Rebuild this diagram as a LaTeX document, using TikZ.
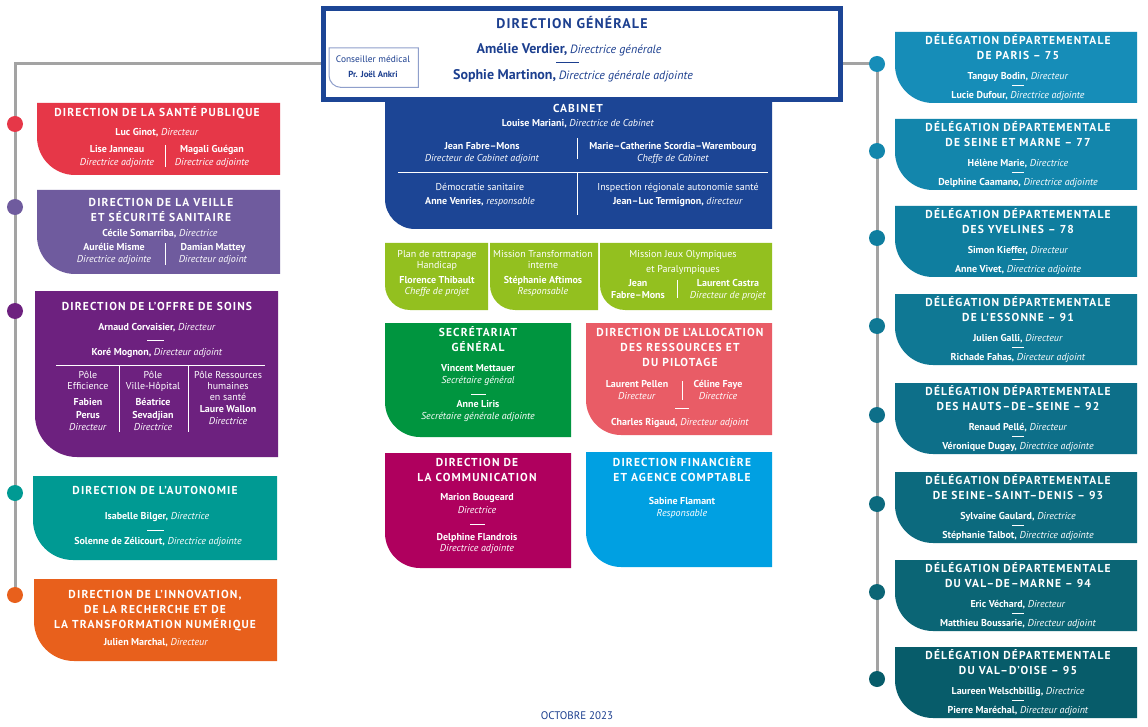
\documentclass[tikz,border=0pt]{standalone}
\usepackage{fontspec}
\setmainfont{PT Sans}
\newfontfamily\hdfam[LetterSpace=8]{PT Sans}
\newfontfamily\hdfamb[LetterSpace=10]{PT Sans}
\pgfdeclarelayer{back}\pgfdeclarelayer{bg}\pgfsetlayers{back,bg,main}
\definecolor{dgblue}{HTML}{1C4595}
\definecolor{dgtext}{HTML}{1C3F8F}
\definecolor{cmborder}{HTML}{8F9FCB}
\definecolor{trunkgray}{HTML}{A3A3A3}
\definecolor{cred}{HTML}{E63748}
\definecolor{cpurpleL}{HTML}{6F5B9E}
\definecolor{cpurpleD}{HTML}{6D217F}
\definecolor{cteal}{HTML}{009A93}
\definecolor{corange}{HTML}{E8601C}
\definecolor{clime}{HTML}{93C01F}
\definecolor{cgreen}{HTML}{00953F}
\definecolor{cpink}{HTML}{E95C66}
\definecolor{cmagenta}{HTML}{AF005E}
\definecolor{cblue}{HTML}{00A0E2}
\definecolor{rA}{HTML}{168DB8}
\definecolor{rB}{HTML}{1386AC}
\definecolor{rC}{HTML}{0F7E9F}
\definecolor{rD}{HTML}{0F7894}
\definecolor{rE}{HTML}{0D6F89}
\definecolor{rF}{HTML}{0C6A7E}
\definecolor{rG}{HTML}{0B6575}
\definecolor{rH}{HTML}{075C6A}
\newcommand{\pn}[1]{\textbf{#1}}
\newcommand{\rl}[1]{\textit{#1}}
\newcommand{\obox}[7]{%
  \node[inner sep=0,outer sep=0,minimum width={(#5-#3)*1pt},minimum height={(#6-#4)*1pt},anchor=north west] (#1) at (#3,-#4) {};
  \fill[#2] (#1.north west) -- (#1.north east) -- (#1.south east) -- ([xshift=#7pt]#1.south west) arc[start angle=270,end angle=180,radius=#7pt] -- cycle;}
\newcommand{\deleg}[8]{%
  \begin{scope}[yshift=-#3pt]
  \node[inner sep=0,outer sep=0,minimum width=242pt,minimum height=71pt,anchor=north west] (#1) at (895,0) {};
  \fill[#2] (#1.north west) -- (#1.north east) -- (#1.south east) -- ([xshift=38pt]#1.south west) arc[start angle=270,end angle=180,radius=38pt] -- cycle;
  \node[dot,fill=#2] (#1c) at (877,-32) {};
  \node[hd] (#1h1) at (1018,-10) {DÉLÉGATION DÉPARTEMENTALE};
  \node[hd] (#1h2) at (1018,-25) {#4};
  \node[tx] (#1n1) at (1018,-45) {\pn{#5,} \rl{#6}};
  \draw[wl] (1012,-53) -- (1024,-53);
  \node[tx] (#1n2) at (1018,-64) {\pn{#7,} \rl{#8}};
  \end{scope}}
\begin{document}
\begin{tikzpicture}[x=1pt,y=1pt,
  tx/.style={text=white,inner sep=0,anchor=mid,font=\fontsize{10}{11}\selectfont},
  tr/.style={text=white,inner sep=0,anchor=mid,font=\fontsize{10}{11}\selectfont},
  hd/.style={text=white,inner sep=0,anchor=mid,font=\hdfamb\fontsize{11.5}{13}\bfseries},
  wl/.style={draw=white,line width=0.8pt},
  dot/.style={circle,inner sep=0,minimum size=16pt},
  trunk/.style={draw=trunkgray,line width=3pt}]
\begin{pgfonlayer}{back}\fill[white] (0,0) rectangle (1148,-727);\end{pgfonlayer}
\useasboundingbox (0,0) rectangle (1148,-727);

% ---------- Direction generale ----------
\node[draw=dgblue,line width=5pt,fill=white,inner sep=0,minimum width=517pt,minimum height=91pt,anchor=north west] (dg) at (320.5,-6.5) {};
\node[text=dgtext,inner sep=0,anchor=mid,font=\hdfam\fontsize{14}{16}\bfseries] (dgt) at (572,-26) {DIRECTION GÉNÉRALE};
\node[text=dgtext,inner sep=0,anchor=mid] (dgn1) at (569,-51) {{\fontsize{14}{16}\selectfont\bfseries Amélie Verdier,} {\fontsize{12}{14}\selectfont\itshape Directrice générale}};
\draw[dgtext,line width=1pt] (556,-63) -- (579,-63);
\node[text=dgtext,inner sep=0,anchor=mid] (dgn2) at (573,-77) {{\fontsize{14}{16}\selectfont\bfseries Sophie Martinon,} {\fontsize{12}{14}\selectfont\itshape Directrice générale adjointe}};
\node[inner sep=0,minimum width=89pt,minimum height=39pt,anchor=north west] (cm) at (329,-48) {};
\draw[cmborder,line width=1pt,fill=white] (cm.north west) -- (cm.north east) -- (cm.south east) -- ([xshift=12pt]cm.south west) arc[start angle=270,end angle=180,radius=12pt] -- cycle;
\node[text=dgtext,inner sep=0,anchor=mid,font=\fontsize{9.4}{11}\selectfont] (cm1) at (373,-60) {Conseiller médical};
\node[text=dgtext,inner sep=0,anchor=mid,font=\fontsize{8.8}{10}\selectfont\bfseries] (cm2) at (373,-75) {Pr. Joël Ankri};

% ---------- Left column ----------
\obox{sp}{cred}{37}{103}{280}{175}{38}
\node[dot,fill=cred] (c1) at (15,-124) {};
\node[hd] (sph) at (157,-114) {DIRECTION DE LA SANTÉ PUBLIQUE};
\node[tx] (spn) at (157,-133) {\pn{Luc Ginot,} \rl{Directeur}};
\node[tx] (spa1) at (117,-150) {\pn{Lise Janneau}};
\node[tx] (spa2) at (117,-163) {\rl{Directrice adjointe}};
\node[tx] (spb1) at (212,-150) {\pn{Magali Guégan}};
\node[tx] (spb2) at (212,-163) {\rl{Directrice adjointe}};
\draw[wl] (165,-145) -- (165,-167);

\obox{vs}{cpurpleL}{37}{190}{280}{274}{38}
\node[dot,fill=cpurpleL] (c2) at (15,-207) {};
\node[hd] (vsh1) at (161,-204) {DIRECTION DE LA VEILLE};
\node[hd] (vsh2) at (161,-219) {ET SÉCURITÉ SANITAIRE};
\node[tx] (vsn) at (160,-234) {\pn{Cécile Somarriba,} \rl{Directrice}};
\node[tx] (vsa1) at (114,-248) {\pn{Aurélie Misme}};
\node[tx] (vsa2) at (114,-260) {\rl{Directrice adjointe}};
\node[tx] (vsb1) at (213,-248) {\pn{Damian Mattey}};
\node[tx] (vsb2) at (213,-260) {\rl{Directeur adjoint}};
\draw[wl] (165,-243) -- (165,-265);

\obox{os}{cpurpleD}{35}{291}{278}{457}{42}
\node[dot,fill=cpurpleD] (c3) at (15,-311) {};
\node[hd] (osh) at (157,-308) {DIRECTION DE L’OFFRE DE SOINS};
\node[tx] (osn1) at (157,-328) {\pn{Arnaud Corvaisier,} \rl{Directeur}};
\draw[wl] (147,-340) -- (164,-340);
\node[tx] (osn2) at (157,-353) {\pn{Koré Mognon,} \rl{Directeur adjoint}};
\draw[wl] (56,-365) -- (265,-365);
\draw[wl] (119,-365) -- (119,-432);
\draw[wl] (188,-365) -- (188,-432);
\node[tr] (osa1) at (88,-376) {Pôle};
\node[tr] (osa2) at (88,-387) {Efficience};
\node[tx] (osa3) at (88,-403) {\pn{Fabien}};
\node[tx] (osa4) at (88,-416) {\pn{Perus}};
\node[tx] (osa5) at (88,-428) {\rl{Directeur}};
\node[tr] (osb1) at (153,-376) {Pôle};
\node[tr] (osb2) at (153,-387) {Ville-Hôpital};
\node[tx] (osb3) at (153,-403) {\pn{Béatrice}};
\node[tx] (osb4) at (153,-416) {\pn{Sevadjian}};
\node[tx] (osb5) at (153,-428) {\rl{Directrice}};
\node[tr] (osc1) at (228,-376) {Pôle Ressources};
\node[tr] (osc2) at (228,-387) {humaines};
\node[tr] (osc3) at (228,-398) {en santé};
\node[tx] (osc4) at (228,-410) {\pn{Laure Wallon}};
\node[tx] (osc5) at (228,-422) {\rl{Directrice}};

\obox{au}{cteal}{33}{476}{277}{560}{40}
\node[dot,fill=cteal] (c4) at (15,-493) {};
\node[hd] (auh) at (155,-492) {DIRECTION DE L’AUTONOMIE};
\node[tx] (aun1) at (157,-517) {\pn{Isabelle Bilger,} \rl{Directrice}};
\draw[wl] (147,-530) -- (164,-530);
\node[tx] (aun2) at (158,-542) {\pn{Solenne de Zélicourt,} \rl{Directrice adjointe}};

\obox{in}{corange}{34}{579}{277}{661}{40}
\node[dot,fill=corange] (c5) at (15,-595) {};
\node[hd] (inh1) at (155,-596) {DIRECTION DE L’INNOVATION,};
\node[hd] (inh2) at (155,-611) {DE LA RECHERCHE ET DE};
\node[hd] (inh3) at (155,-626) {LA TRANSFORMATION NUMÉRIQUE};
\node[tx] (inn) at (156,-643) {\pn{Julien Marchal,} \rl{Directeur}};

% ---------- Center ----------
\obox{cab}{dgblue}{385}{100}{772}{229}{30}
\node[hd] (cabh) at (578,-110) {CABINET};
\node[tx] (cabn) at (578,-124) {\pn{Louise Mariani,} \rl{Directrice de Cabinet}};
\node[tx] (caba1) at (482,-147) {\pn{Jean Fabre–Mons}};
\node[tx] (caba2) at (482,-159) {\rl{Directeur de Cabinet adjoint}};
\node[tx] (cabb1) at (673,-147) {\pn{Marie–Catherine Scordia–Warembourg}};
\node[tx] (cabb2) at (673,-159) {\rl{Cheffe de Cabinet}};
\draw[wl] (577,-138) -- (577,-159);
\draw[wl] (398,-172) -- (768,-172);
\draw[wl] (577,-172) -- (577,-215);
\node[tr] (cabc1) at (480,-188) {Démocratie sanitaire};
\node[tx] (cabc2) at (480,-202) {\pn{Anne Venries,} \rl{responsable}};
\node[tr] (cabd1) at (678,-188) {Inspection régionale autonomie santé};
\node[tx] (cabd2) at (678,-202) {\pn{Jean–Luc Termignon,} \rl{directeur}};

\obox{m1}{clime}{385}{243}{488}{310}{25}
\obox{m2}{clime}{490}{243}{598}{310}{25}
\obox{m3}{clime}{600}{243}{772}{310}{25}
\node[tr] (m1a) at (437,-255) {Plan de rattrapage};
\node[tr] (m1b) at (437,-266) {Handicap};
\node[tx] (m1c) at (437,-281) {\pn{Florence Thibault}};
\node[tx] (m1d) at (437,-292) {\rl{Cheffe de projet}};
\node[tr] (m2a) at (543,-255) {Mission Transformation};
\node[tr] (m2b) at (543,-266) {interne};
\node[tx] (m2c) at (543,-281) {\pn{Stéphanie Aftimos}};
\node[tx] (m2d) at (543,-292) {\rl{Responsable}};
\node[tr] (m3a) at (683,-255) {Mission Jeux Olympiques};
\node[tr] (m3b) at (683,-270) {et Paralympiques};
\node[tx] (m3c) at (638,-284) {\pn{Jean}};
\node[tx] (m3d) at (638,-296) {\pn{Fabre–Mons}};
\draw[wl] (677,-280) -- (677,-298);
\node[tx] (m3e) at (728,-284) {\pn{Laurent Castra}};
\node[tx] (m3f) at (728,-296) {\rl{Directeur de projet}};

\obox{sg}{cgreen}{385}{323}{571}{437}{35}
\node[hd] (sgh1) at (478,-334) {SECRÉTARIAT};
\node[hd] (sgh2) at (478,-349) {GÉNÉRAL};
\node[tx] (sgn1) at (478,-369) {\pn{Vincent Mettauer}};
\node[tx] (sgr1) at (478,-381) {\rl{Secrétaire général}};
\draw[wl] (471,-394) -- (486,-394);
\node[tx] (sgn2) at (478,-405) {\pn{Anne Liris}};
\node[tx] (sgr2) at (478,-417) {\rl{Secrétaire générale adjointe}};

\obox{ar}{cpink}{586}{323}{772}{435}{35}
\node[hd] (arh1) at (680,-334) {DIRECTION DE L’ALLOCATION};
\node[hd] (arh2) at (680,-349) {DES RESSOURCES ET};
\node[hd] (arh3) at (680,-364) {DU PILOTAGE};
\node[tx] (ara1) at (637,-385) {\pn{Laurent Pellen}};
\node[tx] (ara2) at (637,-397) {\rl{Directeur}};
\draw[wl] (682,-381) -- (682,-400);
\node[tx] (arb1) at (718,-385) {\pn{Céline Faye}};
\node[tx] (arb2) at (718,-397) {\rl{Directrice}};
\draw[wl] (675,-408) -- (689,-408);
\node[tx] (arc) at (680,-423) {\pn{Charles Rigaud,} \rl{Directeur adjoint}};

\obox{co}{cmagenta}{385}{453}{571}{568}{35}
\node[hd] (coh1) at (477,-464) {DIRECTION DE};
\node[hd] (coh2) at (477,-479) {LA COMMUNICATION};
\node[tx] (con1) at (477,-498) {\pn{Marion Bougeard}};
\node[tx] (cor1) at (477,-511) {\rl{Directrice}};
\draw[wl] (470,-524) -- (485,-524);
\node[tx] (con2) at (477,-538) {\pn{Delphine Flandrois}};
\node[tx] (cor2) at (477,-549) {\rl{Directrice adjointe}};

\obox{fi}{cblue}{586}{452}{772}{567}{35}
\node[hd] (fih1) at (682,-464) {DIRECTION FINANCIÈRE};
\node[hd] (fih2) at (682,-479) {ET AGENCE COMPTABLE};
\node[tx] (fin) at (682,-502) {\pn{Sabine Flamant}};
\node[tx] (fir) at (682,-514) {\rl{Responsable}};

\node[text=dgtext,inner sep=0,anchor=mid,font=\fontsize{11}{13}\selectfont] (date) at (577,-717) {OCTOBRE 2023};

% ---------- Right column ----------
\deleg{d1}{rA}{32}{DE PARIS – 75}{Tanguy Bodin}{Directeur}{Lucie Dufour}{Directrice adjointe}
\deleg{d2}{rB}{119}{DE SEINE ET MARNE – 77}{Hélène Marie}{Directrice}{Delphine Caamano}{Directrice adjointe}
\deleg{d3}{rC}{206}{DES YVELINES – 78}{Simon Kieffer}{Directeur}{Anne Vivet}{Directrice adjointe}
\deleg{d4}{rD}{294}{DE L’ESSONNE – 91}{Julien Galli}{Directeur}{Richade Fahas}{Directeur adjoint}
\deleg{d5}{rE}{383}{DES HAUTS–DE–SEINE – 92}{Renaud Pellé}{Directeur}{Véronique Dugay}{Directrice adjointe}
\deleg{d6}{rF}{472}{DE SEINE–SAINT–DENIS – 93}{Sylvaine Gaulard}{Directrice}{Stéphanie Talbot}{Directrice adjointe}
\deleg{d7}{rG}{560}{DU VAL–DE–MARNE – 94}{Eric Véchard}{Directeur}{Matthieu Boussarie}{Directeur adjoint}
\deleg{d8}{rH}{647}{DU VAL–D’OISE – 95}{Laureen Welschbillig}{Directrice}{Pierre Maréchal}{Directeur adjoint}

% ---------- Trunks ----------
\coordinate (dgL) at ([yshift=-9pt]dg.west);
\coordinate (dgR) at ([yshift=-9pt]dg.east);
\begin{pgfonlayer}{bg}
\draw[trunk] (dgL) -| (c5.center);
\draw[trunk] (dgR) -| (d8c.center);
\end{pgfonlayer}
\end{tikzpicture}
\end{document}
